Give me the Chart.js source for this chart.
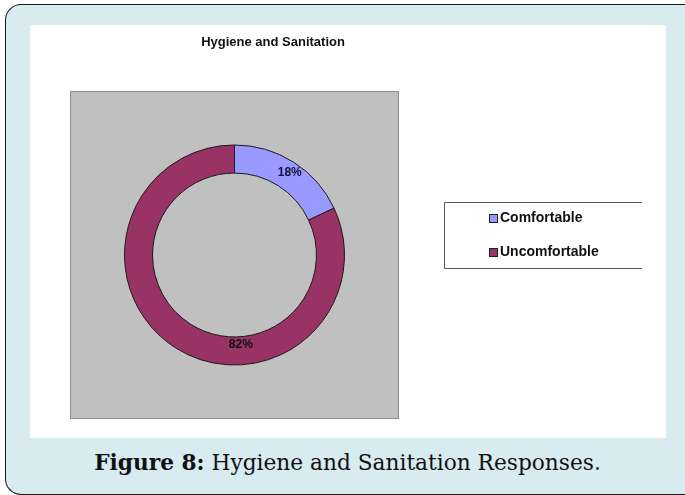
<!DOCTYPE html>
<html>
<head>
<meta charset="utf-8">
<script src="https://cdn.jsdelivr.net/npm/chart.js@4.4.1/dist/chart.umd.min.js"></script>
<style>
  html, body { margin: 0; padding: 0; background: #ffffff; overflow: hidden; }
  #stage { position: relative; width: 685px; height: 495px; overflow: hidden; background: #ffffff; }
  #frame {
    position: absolute; left: 5px; top: 4px; width: 680px; height: 489px;
    background: #d7ebf0; border: 1.5px solid #1a1a1a; border-right: none;
    border-radius: 16px 0 0 16px;
  }
  #panel { position: absolute; left: 30px; top: 25px; width: 636px; height: 413px; background: #ffffff; }
  #caption {
    position: absolute; left: 5px; width: 685px; top: 448px; text-align: center;
    font-family: "DejaVu Serif", "Liberation Serif", serif; font-size: 21.7px; color: #111;
    white-space: nowrap; line-height: 30px;
  }
  #caption b { font-weight: bold; }
  canvas { position: absolute; left: 0; top: 0; }
</style>
</head>
<body>
<div id="stage">
  <div id="frame"></div>
  <div id="panel"></div>
  <div id="caption"><b>Figure 8:</b> Hygiene and Sanitation Responses.</div>
  <canvas id="chart" width="685" height="495"></canvas>
</div>
<script>
// Survey responses on hygiene and sanitation (percent)
const categories = ['Comfortable', 'Uncomfortable'];
const responses = [18, 82];
const valueLabels = ['18%', '82%'];
const sliceColors = ['#9999ff', '#993366'];
const chartTitle = 'Hygiene and Sanitation';

// Grey plot backdrop behind the ring
const plotBackdrop = {
  id: 'plotBackdrop',
  beforeDraw(chart) {
    const { ctx, chartArea: a } = chart;
    ctx.save();
    ctx.fillStyle = '#c0c0c0';
    ctx.fillRect(a.left, a.top, a.right - a.left, a.bottom - a.top);
    ctx.strokeStyle = '#8c8c8c';
    ctx.lineWidth = 1;
    ctx.strokeRect(a.left + 0.5, a.top + 0.5, a.right - a.left - 1, a.bottom - a.top - 1);
    ctx.restore();
  }
};

// Title text above the plot
const headerText = {
  id: 'headerText',
  afterDraw(chart, args, opts) {
    const { ctx } = chart;
    ctx.save();
    ctx.font = 'bold 13px "Liberation Sans", Arial, sans-serif';
    ctx.fillStyle = '#111';
    ctx.textAlign = 'center';
    ctx.textBaseline = 'middle';
    ctx.fillText(opts.text, opts.x, opts.y);
    ctx.restore();
  }
};

// Percentage labels placed on the ring segments
const sliceLabels = {
  id: 'sliceLabels',
  afterDatasetsDraw(chart, args, opts) {
    const { ctx } = chart;
    const meta = chart.getDatasetMeta(0);
    ctx.save();
    ctx.font = 'bold 12px "Liberation Sans", Arial, sans-serif';
    ctx.textAlign = 'center';
    ctx.textBaseline = 'middle';
    meta.data.forEach((arc, i) => {
      const p = arc.getProps(['x', 'y', 'startAngle', 'endAngle', 'innerRadius', 'outerRadius'], true);
      const place = opts.placement[i] || {};
      const ang = place.angle != null ? place.angle * Math.PI / 180 : (p.startAngle + p.endAngle) / 2;
      const r = p.innerRadius + (p.outerRadius - p.innerRadius) * (place.depth != null ? place.depth : 0.5);
      ctx.fillStyle = opts.colors[i];
      ctx.fillText(opts.labels[i], p.x + Math.cos(ang) * r, p.y + Math.sin(ang) * r);
    });
    ctx.restore();
  }
};

// Boxed legend at the right of the plot
const boxLegend = {
  id: 'boxLegend',
  afterDraw(chart, args, opts) {
    const { ctx } = chart;
    const ds = chart.data.datasets[0];
    const { left, top, right, bottom } = opts.box;
    ctx.save();
    ctx.strokeStyle = '#555';
    ctx.lineWidth = 1;
    ctx.beginPath();
    ctx.moveTo(right, top + 0.5); ctx.lineTo(left + 0.5, top + 0.5);
    ctx.lineTo(left + 0.5, bottom + 0.5); ctx.lineTo(right, bottom + 0.5);
    ctx.stroke();
    ctx.font = 'bold 14px "Liberation Sans", Arial, sans-serif';
    ctx.textBaseline = 'middle';
    ctx.textAlign = 'left';
    chart.data.labels.forEach((lab, i) => {
      const y = opts.rows[i];
      ctx.fillStyle = ds.backgroundColor[i];
      ctx.fillRect(opts.x, y - 4, 9, 9);
      ctx.strokeStyle = '#222';
      ctx.strokeRect(opts.x + 0.5, y - 3.5, 8, 8);
      ctx.fillStyle = '#111';
      ctx.fillText(lab, opts.x + 11, y);
    });
    ctx.restore();
  }
};

new Chart(document.getElementById('chart'), {
  type: 'doughnut',
  data: {
    labels: categories,
    datasets: [{
      data: responses,
      backgroundColor: sliceColors,
      borderColor: '#1a1a1a',
      borderWidth: 1,
      hoverOffset: 0
    }]
  },
  options: {
    responsive: false,
    animation: false,
    events: [],
    radius: 110,
    cutout: '74.5%',
    layout: { padding: { left: 70, right: 286, top: 91, bottom: 76 } },
    plugins: {
      legend: { display: false },
      tooltip: { enabled: false },
      title: { display: false },
      headerText: { text: chartTitle, x: 273, y: 42 },
      sliceLabels: {
        labels: valueLabels,
        colors: ['#10103a', '#111111'],
        placement: [{ angle: -56, depth: 0.6 }, { angle: 86, depth: 0.3 }]
      },
      boxLegend: {
        box: { left: 444, top: 202, right: 642, bottom: 268 },
        x: 489,
        rows: [218, 252]
      }
    }
  },
  plugins: [plotBackdrop, headerText, sliceLabels, boxLegend]
});
</script>
</body>
</html>
